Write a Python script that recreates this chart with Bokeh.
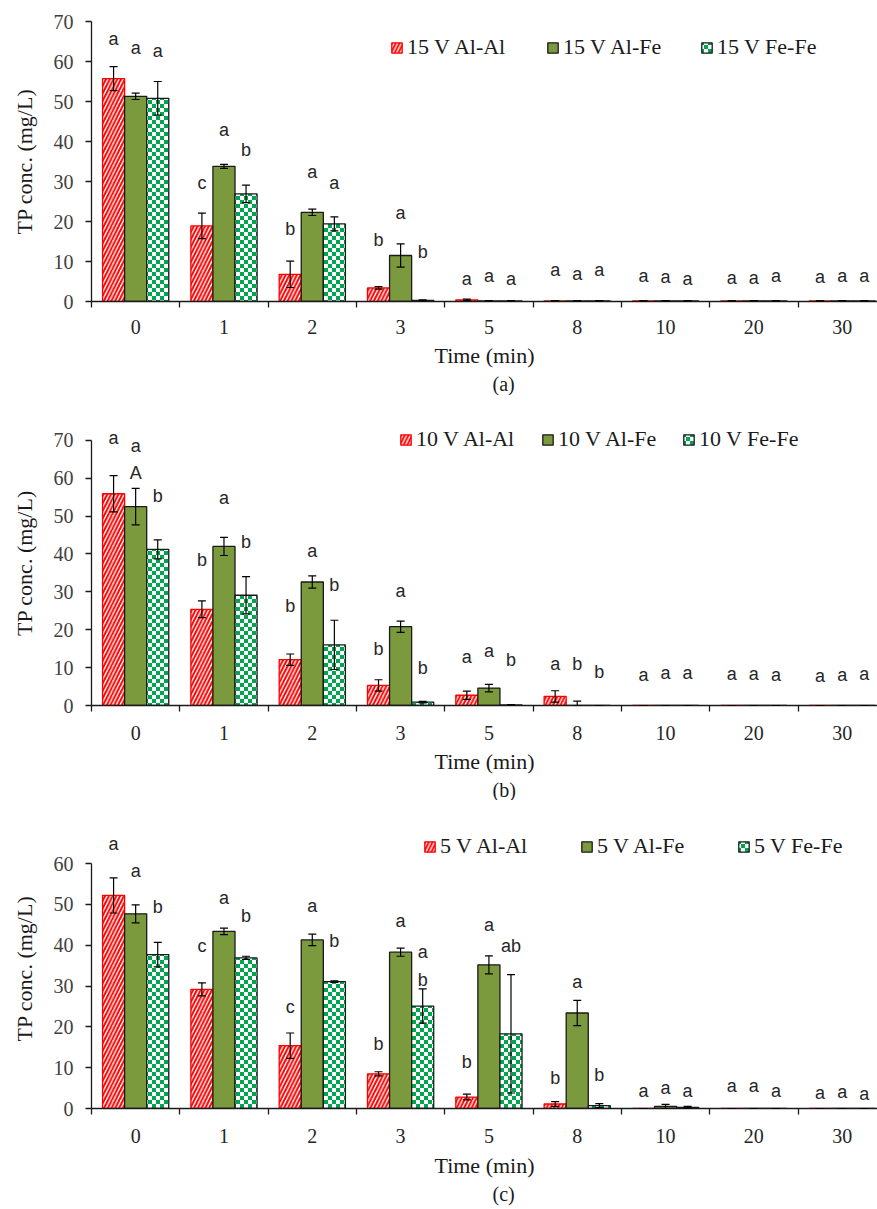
from bokeh.plotting import figure
from bokeh.models import (Range1d, FixedTicker, ColumnDataSource, Whisker, TeeHead,
                          Legend, LegendItem, Title, CanvasTexture)
from bokeh.layouts import column
from bokeh.embed import file_html
from bokeh.resources import INLINE
from bokeh.core.properties import value

# ---------------- data ----------------
times = ["0", "1", "2", "3", "5", "8", "10", "20", "30"]

# (a) 15 V
a_alal = [55.7, 18.9, 6.8, 3.4, 0.4, 0.15, 0.15, 0.15, 0.15]
a_alal_err = [3.0, 3.2, 3.3, 0.3, 0.2, 0, 0, 0, 0]
a_alfe = [51.3, 33.8, 22.3, 11.5, 0.15, 0.15, 0.15, 0.15, 0.15]
a_alfe_err = [0.8, 0.5, 0.8, 2.9, 0, 0, 0, 0, 0]
a_fefe = [50.8, 26.9, 19.4, 0.3, 0.15, 0.15, 0.15, 0.15, 0.15]
a_fefe_err = [4.2, 2.2, 1.75, 0.1, 0, 0, 0, 0, 0]
a_alal_let = ["a", "c", "b", "b", "a", "a", "a", "a", "a"]
a_alfe_let = ["a", "a", "a", "a", "a", "a", "a", "a", "a"]
a_fefe_let = ["a", "b", "a", "b", "a", "a", "a", "a", "a"]
a_alal_lab = [65.7, 29.6, 18.2, 15.3, 5.7, 7.8, 6.5, 5.9, 6.2]
a_alfe_lab = [63.5, 42.9, 32.5, 22.2, 6.5, 6.9, 6.2, 5.9, 6.5]
a_fefe_lab = [62.7, 38.0, 29.7, 12.3, 5.7, 7.8, 5.7, 6.5, 6.5]

# (b) 10 V
b_alal = [55.9, 25.4, 12.1, 5.3, 2.7, 2.4, 0, 0, 0]
b_alal_err = [4.8, 2.2, 1.5, 1.5, 1.1, 1.5, 0, 0, 0]
b_alfe = [52.5, 42.0, 32.6, 20.8, 4.6, 0.05, 0, 0, 0]
b_alfe_err = [4.8, 2.4, 1.6, 1.5, 1.0, 1.1, 0, 0, 0]
b_fefe = [41.2, 29.1, 16.0, 0.9, 0.15, 0, 0, 0, 0]
b_fefe_err = [2.5, 4.9, 6.5, 0.2, 0, 0, 0, 0, 0]
b_alal_let = ["a", "b", "b", "b", "a", "a", "a", "a", "a"]
b_alfe_let = ["a", "a", "a", "a", "a", "b", "a", "a", "a"]
b_fefe_let = ["b", "b", "b", "b", "b", "b", "a", "a", "a"]
b_alal_lab = [70.7, 38.4, 26.3, 14.8, 12.8, 11.0, 8.1, 8.4, 7.7]
b_alfe_lab = [68.4, 54.7, 40.7, 30.1, 14.3, 11.0, 8.6, 8.4, 8.1]
b_fefe_lab = [55.3, 43.1, 31.8, 9.9, 11.9, 8.8, 8.6, 8.1, 8.4]
b_extra_text = ["A"]
b_extra_group = [0]
b_extra_series = [1]
b_extra_y = [61.3]

# (c) 5 V
c_alal = [52.2, 29.2, 15.4, 8.5, 2.8, 1.1, 0, 0, 0]
c_alal_err = [4.3, 1.6, 3.1, 0.5, 0.7, 0.6, 0, 0, 0]
c_alfe = [47.7, 43.4, 41.3, 38.3, 35.2, 23.4, 0.5, 0, 0]
c_alfe_err = [2.2, 0.8, 1.4, 1.0, 2.2, 3.1, 0.5, 0, 0]
c_fefe = [37.7, 36.9, 31.1, 25.1, 18.3, 0.7, 0.3, 0, 0]
c_fefe_err = [3.0, 0.4, 0.2, 4.2, 14.5, 0.5, 0.2, 0, 0]
c_alal_let = ["a", "c", "c", "b", "b", "b", "a", "a", "a"]
c_alfe_let = ["a", "a", "a", "a", "a", "a", "a", "a", "a"]
c_fefe_let = ["b", "b", "b", "a", "ab", "b", "a", "a", "a"]
c_alal_lab = [64.8, 39.8, 24.8, 15.8, 11.3, 7.4, 4.4, 5.4, 3.8]
c_alfe_lab = [58.3, 51.5, 49.5, 46.0, 45.0, 31.1, 5.0, 5.6, 4.0]
c_fefe_lab = [49.3, 47.1, 41.1, 38.3, 39.7, 8.1, 4.4, 4.4, 3.6]
c_extra_text = ["b"]
c_extra_group = [3]
c_extra_series = [2]
c_extra_y = [31.5]

# ---------------- styling ----------------
SERIF = "Liberation Serif"
SANS = "Liberation Sans"
RED = "#FF0000"
OLIVE = "#7B9A3E"
GREEN = "#00A550"
OFFS = [-0.25, 0.0, 0.25]
BW = 0.25


def checker():
    return CanvasTexture(code="""
const c = ctx.canvas;
c.width = 8;
c.height = 8;
ctx.clearRect(0, 0, 8, 8);
ctx.fillStyle = "#00A550";
ctx.fillRect(0, 0, 4, 4);
ctx.fillRect(4, 4, 4, 4);
""")


def panel(volt, tag, series, errs, lets, labs, extra, y_end, axis_top, height,
          top, bottom, leg_x, leg_y, tick_so, lab_so, tag_offset):
    p = figure(width=877, height=height, x_range=Range1d(0, 8.9),
               y_range=Range1d(0, y_end), output_backend="svg",
               toolbar_location=None, min_border_left=91, min_border_right=0,
               min_border_top=top, min_border_bottom=bottom)
    p.outline_line_color = None
    p.xgrid.visible = False
    p.ygrid.visible = False

    styles = [
        dict(fill_color="white", line_color=RED, hatch_pattern="right_diagonal_line",
             hatch_color=RED, hatch_scale=7.5, hatch_weight=2.0),
        dict(fill_color=OLIVE, line_color="#1a1a1a"),
        dict(fill_color="white", line_color="#1a1a1a", hatch_pattern=value("checker"),
             hatch_extra={"checker": checker()}, hatch_color=GREEN, hatch_scale=8),
    ]
    names = [f"{volt} V Al-Al", f"{volt} V Al-Fe", f"{volt} V Fe-Fe"]
    renderers = []
    for k in range(3):
        xs = [i + 0.5 + OFFS[k] for i in range(len(times))]
        vals = series[k]
        src = ColumnDataSource(dict(
            x=xs, top=vals,
            upper=[v + e for v, e in zip(vals, errs[k])],
            lower=[max(0.0, v - e) for v, e in zip(vals, errs[k])],
            ly=labs[k], lt=lets[k]))
        r = p.vbar(x="x", top="top", width=BW, bottom=0, source=src, line_width=1.3,
                   **styles[k])
        renderers.append(r)
        w = Whisker(source=src, base="x", upper="upper", lower="lower",
                    dimension="height", line_color="black", line_width=1.2,
                    level="overlay",
                    upper_head=TeeHead(size=8, line_color="black", line_width=1.2),
                    lower_head=TeeHead(size=8, line_color="black", line_width=1.2))
        p.add_layout(w)
        p.text(x="x", y="ly", text="lt", source=src, text_align="center",
               text_baseline="middle", text_font=value(SANS),
               text_font_size=value("18px"), text_color="#262626")
    if extra:
        et, eg, es, ey = extra
        p.text(x=[g + 0.5 + OFFS[s] for g, s in zip(eg, es)], y=ey, text=et,
               text_align="center", text_baseline="middle", text_font=value(SANS),
               text_font_size=value("18px"), text_color="#262626")

    for n, r, lx in zip(names, renderers, leg_x):
        legend = Legend(items=[LegendItem(label=n, renderers=[r])],
                        orientation="horizontal", location=(lx, leg_y), padding=0,
                        margin=0, spacing=0, glyph_width=13, glyph_height=13,
                        label_standoff=4, background_fill_alpha=0, border_line_alpha=0,
                        label_text_font=SERIF, label_text_font_size="22px",
                        label_text_color="#1a1a1a")
        p.add_layout(legend)

    # x axis
    xa = p.xaxis[0]
    xa.ticker = FixedTicker(ticks=[i + 0.5 for i in range(len(times))],
                            minor_ticks=list(range(len(times) + 1)))
    xa.major_label_overrides = {i + 0.5: t for i, t in enumerate(times)}
    xa.major_tick_out = 0
    xa.major_tick_in = 0
    xa.minor_tick_out = 6
    xa.minor_tick_in = 0
    xa.minor_tick_line_color = "#1a1a1a"
    xa.minor_tick_line_width = 1.3
    xa.axis_line_color = "#1a1a1a"
    xa.axis_line_width = 1.3
    xa.major_label_text_font = SERIF
    xa.major_label_text_font_size = "20px"
    xa.major_label_text_color = "#262626"
    xa.major_label_standoff = tick_so
    xa.axis_label = "Time (min)"
    xa.axis_label_text_font = SERIF
    xa.axis_label_text_font_size = "22px"
    xa.axis_label_text_font_style = "normal"
    xa.axis_label_text_color = "#1a1a1a"
    xa.axis_label_standoff = lab_so

    ya = p.yaxis[0]
    ya.ticker = FixedTicker(ticks=list(range(0, axis_top + 1, 10)), minor_ticks=[])
    ya.bounds = (0, axis_top)
    ya.major_tick_out = 6
    ya.major_tick_in = 0
    ya.major_tick_line_color = "#1a1a1a"
    ya.major_tick_line_width = 1.3
    ya.axis_line_color = "#1a1a1a"
    ya.axis_line_width = 1.3
    ya.major_label_text_font = SERIF
    ya.major_label_text_font_size = "20px"
    ya.major_label_text_color = "#404040"
    ya.major_label_standoff = 12
    ya.axis_label = "TP conc. (mg/L)"
    ya.axis_label_text_font = SERIF
    ya.axis_label_text_font_size = "22px"
    ya.axis_label_text_font_style = "normal"
    ya.axis_label_text_color = "#1a1a1a"
    ya.axis_label_standoff = 14

    t = Title(text=tag, align="left", offset=tag_offset, standoff=0,
              text_font=SERIF, text_font_size="20px", text_font_style="normal",
              text_color="#1a1a1a")
    p.add_layout(t, "below")
    return p


pa = panel(15, "(a)", [a_alal, a_alfe, a_fefe], [a_alal_err, a_alfe_err, a_fefe_err],
           [a_alal_let, a_alfe_let, a_fefe_let], [a_alal_lab, a_alfe_lab, a_fefe_lab],
           None, 70, 70, 395, 21, 94, (299, 455, 609), 241, 12, 6, 401)
pb = panel(10, "(b)", [b_alal, b_alfe, b_fefe], [b_alal_err, b_alfe_err, b_fefe_err],
           [b_alal_let, b_alfe_let, b_fefe_let], [b_alal_lab, b_alfe_lab, b_fefe_lab],
           (b_extra_text, b_extra_group, b_extra_series, b_extra_y),
           75.24, 70, 405, 25, 93, (308, 450, 591), 253, 14, 6, 401)
pc = panel(5, "(c)", [c_alal, c_alfe, c_fefe], [c_alal_err, c_alfe_err, c_fefe_err],
           [c_alal_let, c_alfe_let, c_fefe_let], [c_alal_lab, c_alfe_lab, c_fefe_lab],
           (c_extra_text, c_extra_group, c_extra_series, c_extra_y),
           68.6, 60, 409, 28, 101, (332, 489, 646), 249, 14, 7, 401)

layout = column(pa, pb, pc, spacing=0)
open("out.html", "w").write(file_html(layout, INLINE))
